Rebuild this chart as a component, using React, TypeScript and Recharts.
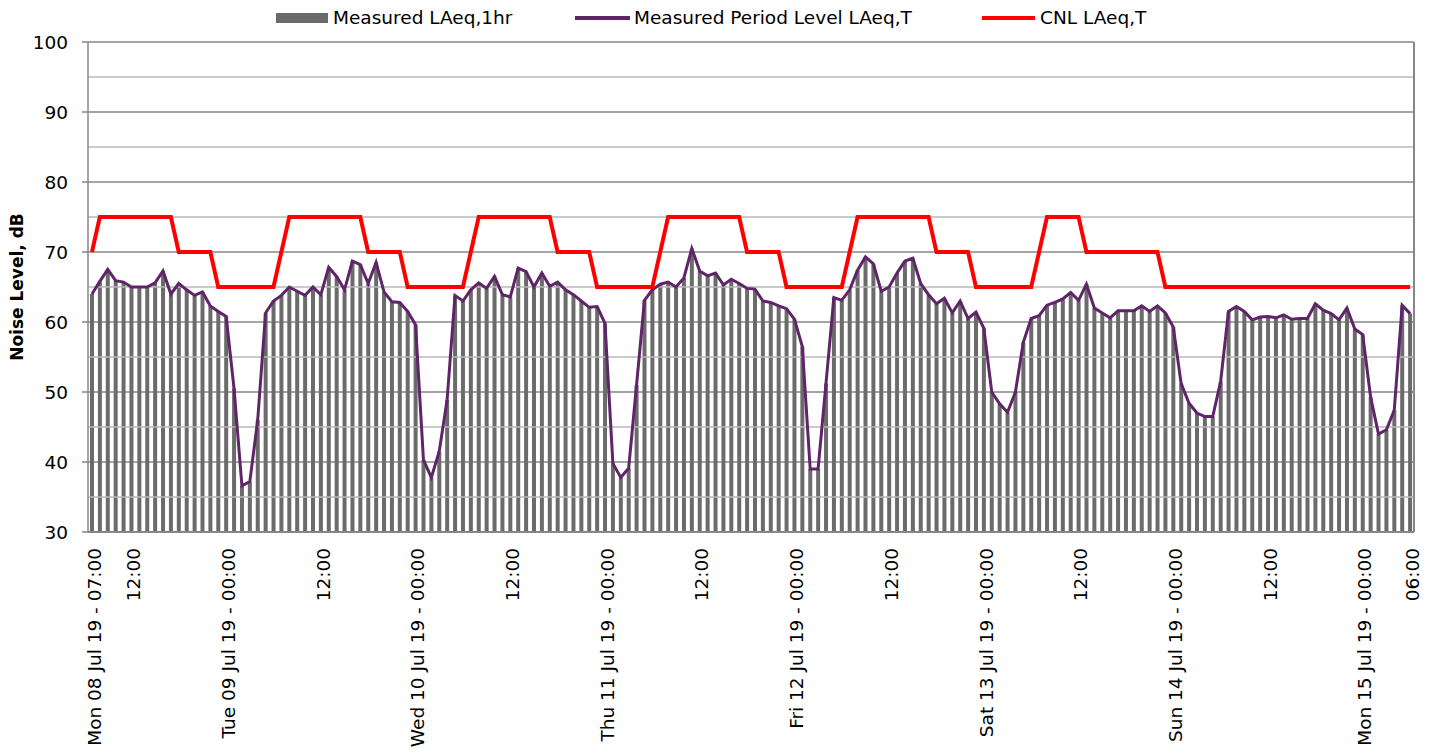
import React from 'react';
import { ComposedChart, Bar, Line, XAxis, YAxis, CartesianGrid, Legend, ReferenceLine } from 'recharts';

const FONT = '"DejaVu Sans", Verdana, sans-serif';

// Day names for the hourly categories (first hour Mon 08 Jul 19 07:00, 168 hours)
const dayNames = ['Mon 08 Jul 19', 'Tue 09 Jul 19', 'Wed 10 Jul 19', 'Thu 11 Jul 19', 'Fri 12 Jul 19', 'Sat 13 Jul 19', 'Sun 14 Jul 19', 'Mon 15 Jul 19'];
const firstHour = 7;
const hourCount = 168;
const categories: string[] = [];
for (let i = 0; i < hourCount; i++) {
  const t = i + firstHour;
  const d = Math.floor(t / 24);
  const h = t % 24;
  categories.push(`${dayNames[d]} - ${String(h).padStart(2, '0')}:00`);
}

// Measured LAeq,1hr (also traced by the measured period level line)
const measuredMon08 = [64.0, 65.8, 67.5, 65.9, 65.7, 65.0, 65.0, 65.0, 65.6, 67.3, 64.0, 65.5, 64.6, 63.8, 64.3, 62.3, 61.5];
const measuredTue09 = [60.8, 50.5, 36.6, 37.2, 46.0, 61.3, 63.0, 63.8, 65.0, 64.4, 63.8, 65.0, 63.9, 67.8, 66.5, 64.6, 68.7, 68.2, 65.5, 68.5, 64.3, 62.9, 62.8, 61.5];
const measuredWed10 = [59.6, 40.3, 37.8, 41.5, 48.9, 63.8, 63.0, 64.6, 65.6, 64.8, 66.5, 63.9, 63.6, 67.7, 67.2, 65.0, 67.0, 65.1, 65.7, 64.6, 63.9, 63.0, 62.1, 62.2];
const measuredThu11 = [59.8, 39.8, 37.8, 39.1, 51.0, 63.1, 64.6, 65.4, 65.7, 65.0, 66.3, 70.5, 67.3, 66.6, 67.0, 65.3, 66.1, 65.5, 64.8, 64.7, 63.0, 62.8, 62.3, 61.9];
const measuredFri12 = [60.4, 56.5, 39.0, 39.0, 51.2, 63.5, 63.1, 64.6, 67.4, 69.3, 68.3, 64.4, 65.0, 67.0, 68.7, 69.1, 65.5, 63.9, 62.6, 63.4, 61.3, 63.0, 60.5, 61.4];
const measuredSat13 = [59.1, 50.0, 48.3, 47.1, 50.0, 57.1, 60.5, 60.9, 62.4, 62.8, 63.3, 64.2, 63.1, 65.4, 62.0, 61.3, 60.6, 61.6, 61.6, 61.6, 62.3, 61.5, 62.3, 61.3];
const measuredSun14 = [59.3, 51.2, 48.4, 47.0, 46.5, 46.5, 51.5, 61.5, 62.2, 61.5, 60.3, 60.7, 60.8, 60.6, 61.0, 60.4, 60.5, 60.5, 62.6, 61.7, 61.2, 60.3, 62.0, 59.0];
const measuredMon15 = [58.2, 49.3, 44.0, 44.6, 47.4, 62.4, 61.2];

// CNL LAeq,T
const cnlMon08 = [70, 75, 75, 75, 75, 75, 75, 75, 75, 75, 75, 70, 70, 70, 70, 70, 65];
const cnlTue09 = [65, 65, 65, 65, 65, 65, 65, 70, 75, 75, 75, 75, 75, 75, 75, 75, 75, 75, 70, 70, 70, 70, 70, 65];
const cnlWed10 = [65, 65, 65, 65, 65, 65, 65, 70, 75, 75, 75, 75, 75, 75, 75, 75, 75, 75, 70, 70, 70, 70, 70, 65];
const cnlThu11 = [65, 65, 65, 65, 65, 65, 65, 70, 75, 75, 75, 75, 75, 75, 75, 75, 75, 75, 70, 70, 70, 70, 70, 65];
const cnlFri12 = [65, 65, 65, 65, 65, 65, 65, 70, 75, 75, 75, 75, 75, 75, 75, 75, 75, 75, 70, 70, 70, 70, 70, 65];
const cnlSat13 = [65, 65, 65, 65, 65, 65, 65, 70, 75, 75, 75, 75, 75, 70, 70, 70, 70, 70, 70, 70, 70, 70, 70, 65];
const cnlSun14 = [65, 65, 65, 65, 65, 65, 65, 65, 65, 65, 65, 65, 65, 65, 65, 65, 65, 65, 65, 65, 65, 65, 65, 65];
const cnlMon15 = [65, 65, 65, 65, 65, 65, 65];

const measured = [...measuredMon08, ...measuredTue09, ...measuredWed10, ...measuredThu11, ...measuredFri12, ...measuredSat13, ...measuredSun14, ...measuredMon15];
const cnl = [...cnlMon08, ...cnlTue09, ...cnlWed10, ...cnlThu11, ...cnlFri12, ...cnlSat13, ...cnlSun14, ...cnlMon15];

// X tick labels
const tickCategories = [
  'Mon 08 Jul 19 - 07:00', 'Mon 08 Jul 19 - 12:00',
  'Tue 09 Jul 19 - 00:00', 'Tue 09 Jul 19 - 12:00',
  'Wed 10 Jul 19 - 00:00', 'Wed 10 Jul 19 - 12:00',
  'Thu 11 Jul 19 - 00:00', 'Thu 11 Jul 19 - 12:00',
  'Fri 12 Jul 19 - 00:00', 'Fri 12 Jul 19 - 12:00',
  'Sat 13 Jul 19 - 00:00', 'Sat 13 Jul 19 - 12:00',
  'Sun 14 Jul 19 - 00:00', 'Sun 14 Jul 19 - 12:00',
  'Mon 15 Jul 19 - 00:00', 'Mon 15 Jul 19 - 06:00',
];
const tickTexts = [
  'Mon 08 Jul 19 - 07:00', '12:00',
  'Tue 09 Jul 19 - 00:00', '12:00',
  'Wed 10 Jul 19 - 00:00', '12:00',
  'Thu 11 Jul 19 - 00:00', '12:00',
  'Fri 12 Jul 19 - 00:00', '12:00',
  'Sat 13 Jul 19 - 00:00', '12:00',
  'Sun 14 Jul 19 - 00:00', '12:00',
  'Mon 15 Jul 19 - 00:00', '06:00',
];
const yTicks = [30, 40, 50, 60, 70, 80, 90, 100];
const yMinorTicks = [35, 45, 55, 65, 75, 85, 95];

const seriesNames = ['Measured LAeq,1hr', 'Measured Period Level LAeq,T', 'CNL LAeq,T'];

const data = categories.map((c, i) => ({
  time: c,
  laeq1hr: measured[i],
  period: measured[i],
  cnl: cnl[i],
}));

const BAR_COLOR = '#6b6b6b';
const PURPLE = '#5f2568';
const RED = '#ff0000';
const GRID_MAJOR = '#878787';
const GRID_MINOR = '#b9b9b9';

const XTick = (props: any) => {
  const { x, y, payload } = props;
  const idx = tickCategories.indexOf(payload.value);
  const text = idx >= 0 ? tickTexts[idx] : '';
  return (
    <text
      x={0}
      y={0}
      dy="0.36em"
      textAnchor="end"
      transform={`translate(${x + 2},${y}) rotate(-90)`}
      fontSize={18.5}
      fontFamily={FONT}
      fill="#000"
    >
      {text}
    </text>
  );
};

const renderLegend = () => {
  const textStyle: React.CSSProperties = {
    position: 'absolute',
    top: 0,
    fontSize: 18.5,
    lineHeight: '20px',
    fontFamily: FONT,
    color: '#000',
    whiteSpace: 'nowrap',
  };
  return (
    <div style={{ position: 'relative', width: 1420, height: 24 }}>
      <div style={{ position: 'absolute', left: 268, top: 5, width: 52, height: 10, background: BAR_COLOR }} />
      <div style={{ ...textStyle, left: 325 }}>{seriesNames[0]}</div>
      <div style={{ position: 'absolute', left: 567, top: 8, width: 55, height: 4, background: PURPLE }} />
      <div style={{ ...textStyle, left: 626 }}>{seriesNames[1]}</div>
      <div style={{ position: 'absolute', left: 974, top: 8, width: 53, height: 4, background: RED }} />
      <div style={{ ...textStyle, left: 1032 }}>{seriesNames[2]}</div>
    </div>
  );
};

export default function App() {
  return (
    <div style={{ width: 1420, height: 745 }}>
      <ComposedChart
        width={1420}
        height={745}
        data={data}
        margin={{ top: 10, right: 13, bottom: 0, left: 0 }}
      >
        <CartesianGrid vertical={false} stroke={GRID_MAJOR} strokeWidth={1.5} />
        {yMinorTicks.map((v) => (
          <ReferenceLine key={v} y={v} stroke={GRID_MINOR} strokeWidth={1.5} />
        ))}
        <XAxis
          dataKey="time"
          ticks={tickCategories}
          interval={0}
          tick={<XTick />}
          tickLine={false}
          tickSize={0}
          tickMargin={16}
          height={221}
          axisLine={{ stroke: GRID_MAJOR, strokeWidth: 2 }}
        />
        <YAxis
          domain={[30, 100]}
          ticks={yTicks}
          width={80}
          tickSize={6}
          tickMargin={14}
          axisLine={{ stroke: GRID_MAJOR, strokeWidth: 1.5 }}
          tickLine={{ stroke: GRID_MAJOR, strokeWidth: 1.5 }}
          tick={{ fontSize: 18.5, fontFamily: FONT, fill: '#000' }}
          label={{
            value: 'Noise Level, dB',
            angle: -90,
            position: 'insideLeft',
            offset: 9,
            style: { textAnchor: 'middle', fontSize: 17, fontWeight: 'bold', fontFamily: FONT, fill: '#000' },
          }}
        />
        <YAxis
          yAxisId="right"
          orientation="right"
          domain={[30, 100]}
          width={1}
          tick={false}
          tickLine={false}
          axisLine={{ stroke: GRID_MAJOR, strokeWidth: 2 }}
        />
        <Legend verticalAlign="top" content={renderLegend} wrapperStyle={{ top: 0, left: 0, width: 1420, height: 24 }} />
        <Bar dataKey="laeq1hr" name={seriesNames[0]} fill={BAR_COLOR} barSize={4} isAnimationActive={false} />
        <Line dataKey="period" name={seriesNames[1]} stroke={PURPLE} strokeWidth={3} dot={false} activeDot={false} isAnimationActive={false} />
        <Line dataKey="cnl" name={seriesNames[2]} stroke={RED} strokeWidth={4} dot={false} activeDot={false} isAnimationActive={false} />
      </ComposedChart>
    </div>
  );
}
